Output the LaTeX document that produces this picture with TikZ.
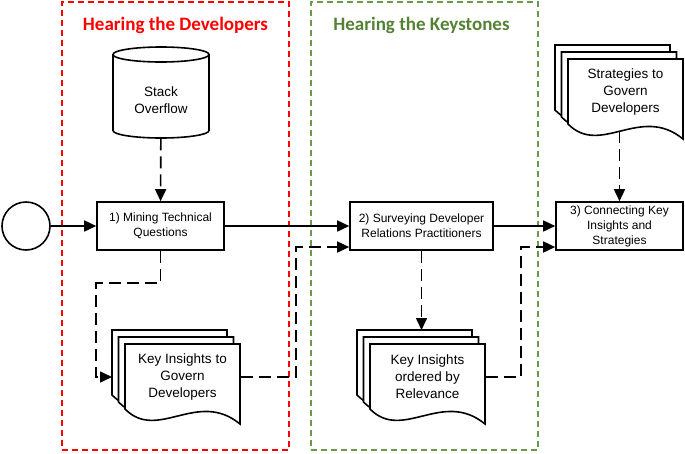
\documentclass[tikz,border=0pt]{standalone}
\usepackage{fontspec}
\setmainfont{Liberation Sans}
\newfontfamily\titlefont{Carlito}
\usetikzlibrary{arrows.meta,positioning}

\definecolor{devred}{HTML}{FF0000}
\definecolor{keygreen}{HTML}{548235}
\definecolor{keyframe}{HTML}{6A9A45}

% stack of three pages, front page centred at #2, named #1
\newcommand{\docstack}[3]{%
	\begin{scope}[shift={#2}]
		\foreach \d in {2,1,0}
			\draw[docpage, shift={(-6.5*\d,-7*\d)}] (-57.5,-33) -- (57.5,-33) -- (57.5,47)
				.. controls (15,12) and (-25,65) .. (-57.5,32) -- cycle;
		\node[doclabel] (#1) at (0,0) {#3};
		\coordinate (#1 back) at (-70.5,0);
		\coordinate (#1 top) at (-6,-47);
		\coordinate (#1 bot) at (0,39);
	\end{scope}}

\begin{document}
\begin{tikzpicture}[x=1pt, y=-1pt, line width=1.6pt,
		>={Triangle[length=12pt,width=11pt]},
		step box/.style={draw, fill=white, align=center, inner sep=2pt,
			minimum height=48pt, font=\fontsize{12}{15}\selectfont},
		docpage/.style={draw, fill=white, line join=miter},
		doclabel/.style={align=center, inner sep=0pt, minimum width=115pt,
			font=\fontsize{13.5}{17}\selectfont},
		flow/.style={->},
		feed/.style={->, dash pattern=on 12pt off 6pt},
		frame/.style={draw=#1, line width=1.3pt, dash pattern=on 6pt off 4pt,
			minimum height=448pt, minimum width=227pt},
		title/.style={font=\fontsize{19}{22}\titlefont\bfseries, below=12pt}]
	\useasboundingbox (0,0) rectangle (685,453);

	% the two phases
	\node[frame=devred] (devs) at (175.5,226) {};
	\node[frame=keyframe] (keys) at (424.5,226) {};
	\node[title, text=devred] (devtitle) at (devs.north) {Hearing the Developers};
	\node[title, text=keygreen] (keytitle) at ([xshift=-3pt]keys.north) {Hearing the Keystones};

	% steps
	\node[draw, circle, minimum size=48pt] (start) at (26,226) {};
	\node[minimum width=96pt, minimum height=91pt, inner sep=0pt,
		label={[yshift=-8pt, align=center, font=\fontsize{13.5}{17}\selectfont]center:Stack\\Overflow}]
		(so) at (161,92) {};
	\begin{scope}[shift={(so.center)}]
		\draw (-48,-37.5) -- (-48,38.5) arc[start angle=180, end angle=360, x radius=48pt, y radius=7.5pt]
			-- (48,-37.5);
		\draw (0,-37.5) ellipse[x radius=48pt, y radius=7.5pt];
	\end{scope}
	\node[step box, minimum width=127pt] (mine) at (160.5,226) {1) Mining Technical\\Questions};
	\node[step box, minimum width=143pt] (survey) at (421.5,226) {2) Surveying Developer\\Relations Practitioners};
	\node[step box, minimum width=127pt] (connect) at (619.5,226) {3) Connecting Key\\Insights and\\Strategies};

	% documents
	\docstack{devins}{(182.5,377)}{Key Insights to\\Govern\\Developers}
	\docstack{relins}{(427.5,377)}{Key Insights\\ordered by\\Relevance}
	\docstack{strat}{(625.5,92)}{Strategies to\\Govern\\Developers}

	% main line
	\draw[flow] (start) -- (mine);
	\draw[flow] (mine) -- (survey);
	\draw[flow] (survey) -- (connect);

	% data flows
	\draw[feed] (so) -- (mine);
	\draw[feed] (mine.south) -- ++(0,32) -| (mine.west |- devins back) -- (devins back);
	\draw[feed] (devins.east) -- ++(55,0) |- ([yshift=-21pt]survey.west);
	\draw[feed] (survey.south) -- (survey.south |- relins top);
	\draw[feed] (relins.east) -- ++(35,0) |- ([yshift=-21pt]connect.west);
	\draw[feed] (connect.north |- strat bot) -- (connect.north);
\end{tikzpicture}
\end{document}
